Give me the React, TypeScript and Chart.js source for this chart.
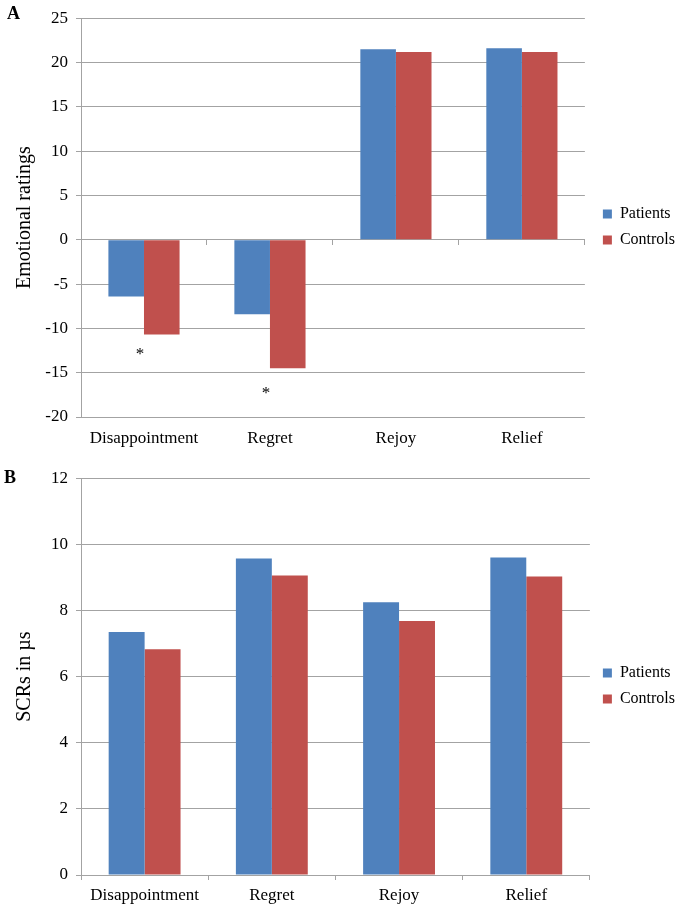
import React, { useEffect, useRef } from 'react';
import { Chart, registerables } from 'chart.js';

Chart.register(...registerables);

// ---------- data ----------
const categories = ['Disappointment', 'Regret', 'Rejoy', 'Relief'];
const seriesNames = ['Patients', 'Controls'];

const ratingsPatients = [-6.4, -8.4, 21.5, 21.6];
const ratingsControls = [-10.7, -14.5, 21.2, 21.2];

const scrPatients = [7.35, 9.57, 8.25, 9.6];
const scrControls = [6.83, 9.06, 7.68, 9.03];

const ratingsAxis = { min: -20, max: 25, step: 5, title: 'Emotional ratings' };
const scrAxis = { min: 0, max: 12, step: 2, title: 'SCRs in µs' };

// significance markers (category index, value position)
const asteriskCategories = [0, 1];
const asteriskValues = [-13.0, -17.4];

// ---------- style ----------
const BLUE = '#4F81BD';
const RED = '#C0504D';
const GRID = '#a3a3a3';
const FONT = '"Liberation Serif", "Times New Roman", serif';

const asteriskPlugin = {
  id: 'asterisks',
  afterDatasetsDraw(chart: any, _args: any, opts: any) {
    if (!opts || !opts.values) return;
    const { ctx } = chart;
    const xs = chart.scales.x;
    const ys = chart.scales.y;
    ctx.save();
    ctx.font = `17px ${FONT}`;
    ctx.fillStyle = '#000';
    ctx.textAlign = 'center';
    ctx.textBaseline = 'middle';
    opts.categories.forEach((c: number, i: number) => {
      ctx.fillText('*', xs.getPixelForValue(c) - 4, ys.getPixelForValue(opts.values[i]));
    });
    ctx.restore();
  },
};

const legendShiftPlugin = {
  id: 'legendShift',
  afterLayout(chart: any, _args: any, opts: any) {
    const l = chart.legend;
    if (l && opts) {
      const dx = opts.dx || 0;
      const dy = opts.dy || 0;
      l.left += dx;
      l.right += dx;
      l.top += dy;
      l.bottom += dy;
    }
  },
};

function makeConfig(
  patients: number[],
  controls: number[],
  axis: { min: number; max: number; step: number; title: string },
  zeroAxis: boolean,
  xHeight: number,
  xPad: number,
  padding: any,
  legendDx: number,
  legendDy: number,
  asterisks: any
): any {
  const scales: any = {
    x: {
      type: 'category',
      position: 'bottom',
      offset: true,
      grid: zeroAxis
        ? { display: false }
        : { offset: true, drawOnChartArea: false, tickLength: 5, color: GRID },
      border: zeroAxis ? { display: false } : { display: true, color: GRID },
      ticks: {
        color: '#000',
        font: { family: FONT, size: 17 },
        padding: xPad,
        maxRotation: 0,
        autoSkip: false,
      },
      afterFit: (s: any) => {
        s.height = xHeight;
      },
    },
    y: {
      min: axis.min,
      max: axis.max,
      grid: { color: GRID, tickLength: 5 },
      border: { display: true, color: GRID },
      ticks: {
        stepSize: axis.step,
        color: '#000',
        font: { family: FONT, size: 17 },
        padding: 8,
      },
      title: {
        display: true,
        text: axis.title,
        color: '#000',
        font: { family: FONT, size: 20 },
        padding: { top: 13, bottom: 0 },
      },
      afterFit: (s: any) => {
        s.width = 81;
      },
    },
  };
  if (zeroAxis) {
    scales.x0 = {
      type: 'category',
      axis: 'x',
      position: { y: 0 },
      offset: true,
      grid: { offset: true, drawOnChartArea: false, tickLength: 5, color: GRID },
      border: { display: true, color: GRID },
      ticks: { display: false },
    };
  }
  return {
    type: 'bar',
    data: {
      labels: categories,
      datasets: [
        { label: seriesNames[0], data: patients, backgroundColor: BLUE, xAxisID: 'x', yAxisID: 'y' },
        { label: seriesNames[1], data: controls, backgroundColor: RED, xAxisID: 'x', yAxisID: 'y' },
      ],
    },
    options: {
      responsive: false,
      animation: false,
      devicePixelRatio: 1,
      layout: { padding },
      datasets: { bar: { categoryPercentage: 0.565, barPercentage: 1, borderWidth: 0 } },
      scales,
      plugins: {
        tooltip: { enabled: false },
        legend: {
          position: 'right',
          labels: {
            boxWidth: 9,
            boxHeight: 9,
            padding: 10,
            color: '#000',
            font: { family: FONT, size: 16 },
          },
        },
        legendShift: { dx: legendDx, dy: legendDy },
        asterisks: asterisks,
      },
    },
    plugins: [asteriskPlugin, legendShiftPlugin],
  };
}

function ChartCanvas({ config, width, height, top }: any) {
  const ref = useRef<HTMLCanvasElement | null>(null);
  useEffect(() => {
    if (!ref.current) return;
    const chart = new Chart(ref.current, config);
    return () => chart.destroy();
  }, []);
  return (
    <canvas
      ref={ref}
      width={width}
      height={height}
      style={{ position: 'absolute', left: 0, top, width, height, display: 'block' }}
    />
  );
}

export default function App() {
  const configA = makeConfig(
    ratingsPatients,
    ratingsControls,
    ratingsAxis,
    true,
    40,
    3,
    { top: 15, bottom: 3, left: 0, right: 1 },
    8,
    -9,
    { categories: asteriskCategories, values: asteriskValues }
  );
  const configB = makeConfig(
    scrPatients,
    scrControls,
    scrAxis,
    false,
    32,
    5,
    { top: 15, bottom: 0, left: 0, right: -4 },
    3,
    -5,
    {}
  );
  const letter: any = {
    position: 'absolute',
    left: 7,
    fontFamily: FONT,
    fontWeight: 'bold',
    fontSize: 18,
    lineHeight: '18px',
    color: '#000',
  };
  return (
    <div style={{ position: 'absolute', left: 0, top: 0, width: 678, height: 907, background: '#fff', overflow: 'hidden' }}>
      <ChartCanvas config={configA} width={678} height={460} top={0} />
      <ChartCanvas config={configB} width={678} height={447} top={460} />
      <div style={{ ...letter, top: 4 }}>A</div>
      <div style={{ ...letter, top: 468, left: 4 }}>B</div>
    </div>
  );
}
